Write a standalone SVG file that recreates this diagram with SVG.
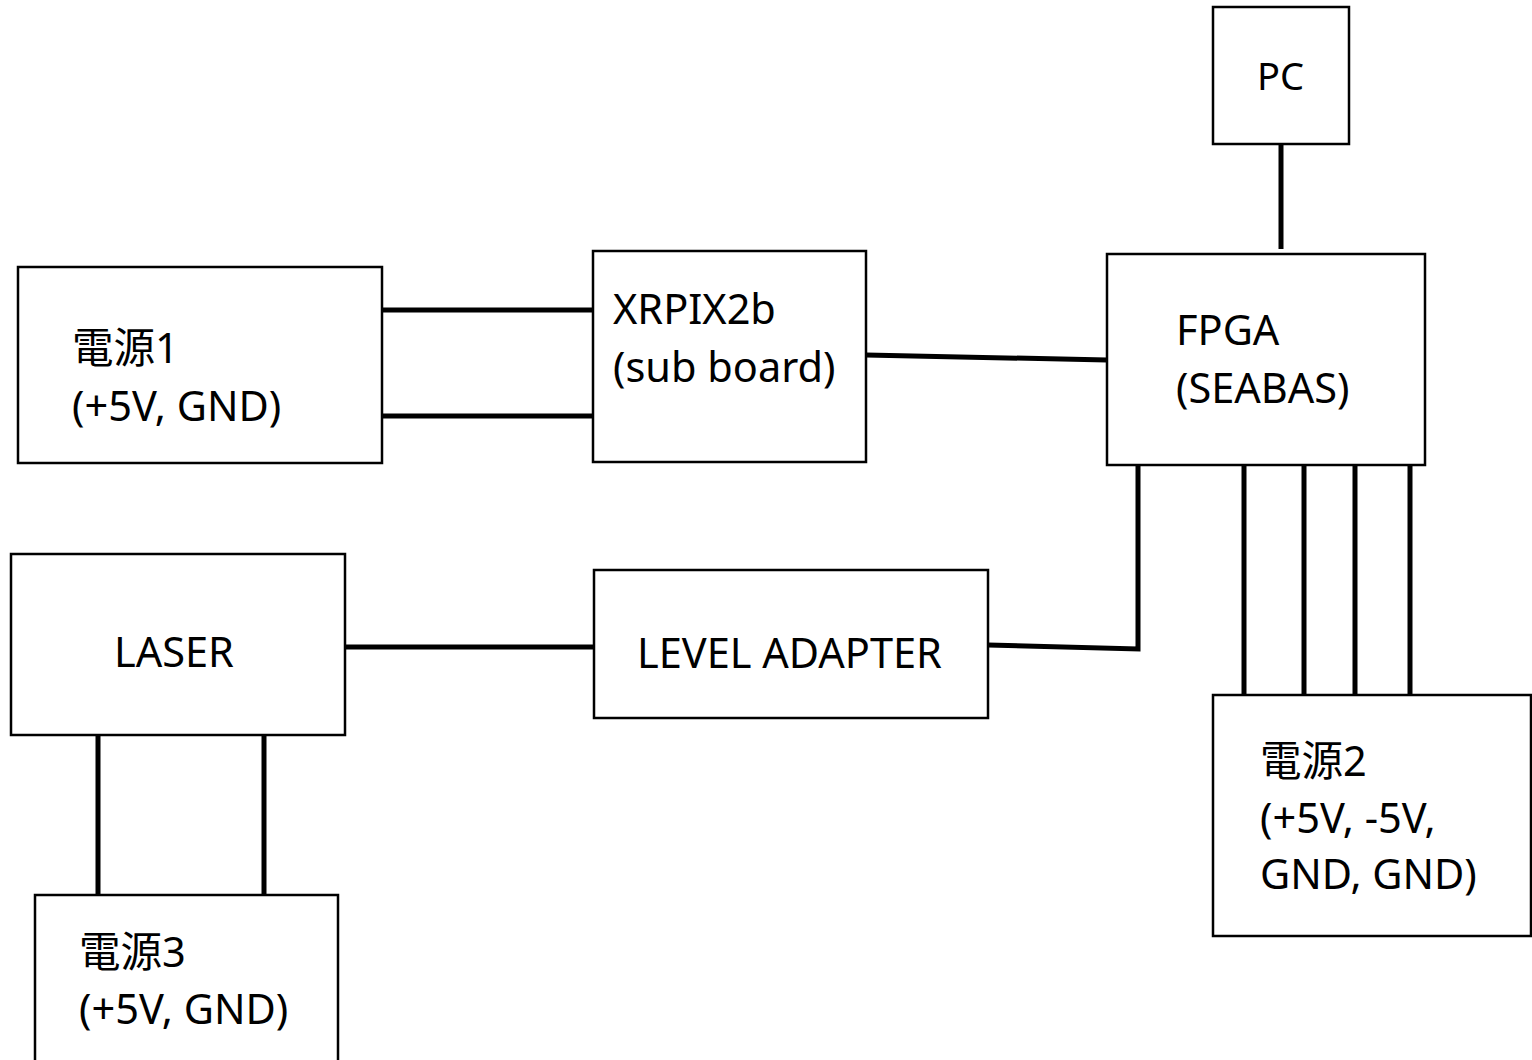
<svg xmlns="http://www.w3.org/2000/svg" width="1532" height="1060" viewBox="0 0 1532 1060">
<style>
.box{fill:#fff;stroke:#000;stroke-width:2.5}
.wire{stroke:#000;stroke-width:5;fill:none}
text{font-family:"Noto Sans","Noto Sans CJK JP",sans-serif;font-size:41.5px;fill:#000}
.small{font-size:38px}
</style>
<rect width="1532" height="1060" fill="#fff"/>
<g id="connectors">
<line class="wire" x1="383" y1="310" x2="593" y2="310"/>
<line class="wire" x1="383" y1="416" x2="593" y2="416"/>
<line class="wire" x1="866" y1="355" x2="1107" y2="360"/>
<line class="wire" x1="1281" y1="144" x2="1281" y2="249"/>
<polyline class="wire" points="1138,465 1138,649 988,645"/>
<line class="wire" x1="1244" y1="465" x2="1244" y2="695"/>
<line class="wire" x1="1304" y1="465" x2="1304" y2="695"/>
<line class="wire" x1="1355" y1="465" x2="1355" y2="695"/>
<line class="wire" x1="1410" y1="465" x2="1410" y2="695"/>
<line class="wire" x1="345" y1="647" x2="594" y2="647"/>
<line class="wire" x1="98" y1="735" x2="98" y2="895"/>
<line class="wire" x1="264" y1="735" x2="264" y2="895"/>
</g>
<g id="psu1">
<rect class="box" x="18" y="267" width="364" height="196"/>
<text x="72" y="363">電源1</text>
<text x="72" y="421">(+5V, GND)</text>
</g>
<g id="xrpix">
<rect class="box" x="593" y="251" width="273" height="211"/>
<text x="613" y="324">XRPIX2b</text>
<text x="613" y="382">(sub board)</text>
</g>
<g id="fpga">
<rect class="box" x="1107" y="254" width="318" height="211"/>
<text x="1176" y="345">FPGA</text>
<text x="1176" y="403">(SEABAS)</text>
</g>
<g id="pc">
<rect class="box" x="1213" y="7" width="136" height="137"/>
<text class="small" x="1257" y="90">PC</text>
</g>
<g id="laser">
<rect class="box" x="11" y="554" width="334" height="181"/>
<text x="114" y="667">LASER</text>
</g>
<g id="level">
<rect class="box" x="594" y="570" width="394" height="148"/>
<text x="637" y="668">LEVEL ADAPTER</text>
</g>
<g id="psu2">
<rect class="box" x="1213" y="695" width="318" height="241"/>
<text x="1260" y="776">電源2</text>
<text x="1260" y="833">(+5V, -5V,</text>
<text x="1260" y="889">GND, GND)</text>
</g>
<g id="psu3">
<rect class="box" x="35" y="895" width="303" height="180"/>
<text x="79" y="967">電源3</text>
<text x="79" y="1024">(+5V, GND)</text>
</g>
</svg>
